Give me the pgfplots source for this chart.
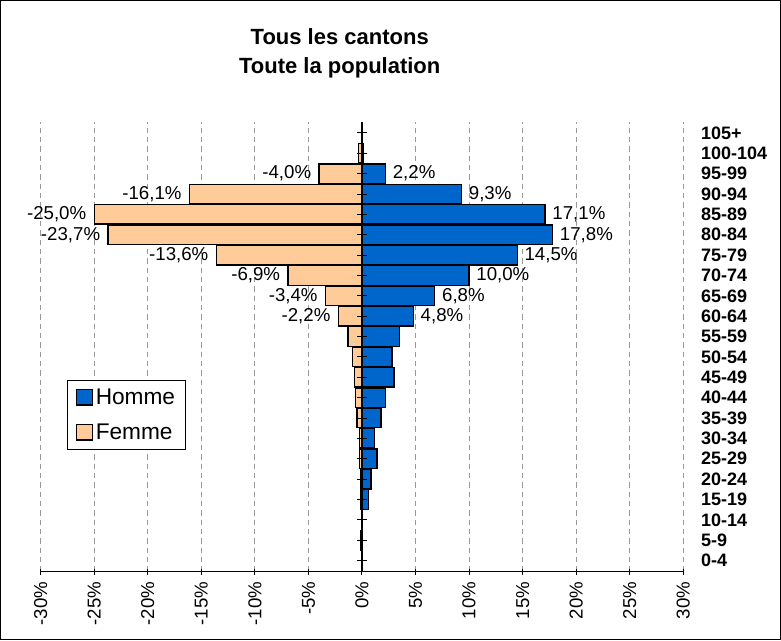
\documentclass[border=0pt]{standalone}
\usepackage{fontspec}
\setmainfont{Liberation Sans}
\usepackage{pgfplots}
\pgfplotsset{compat=1.18}
\definecolor{homme}{HTML}{0066CC}
\definecolor{femme}{HTML}{FFCC99}
\begin{document}
\begin{tikzpicture}
\useasboundingbox (0,0) rectangle (585.75pt,480pt);
\draw[line width=0.75pt] (0.375pt,0.375pt) rectangle (585.375pt,479.625pt);
\node[font=\bfseries\fontsize{16.5}{21.5}\selectfont, align=center] at (254.8pt,440pt) {Tous les cantons\\Toute la population};
\pgfplotsset{pyr/.style={
  scale only axis, width=481.95pt, height=337.5pt,
  at={(30.5pt,51.2pt)}, anchor=south west,
  xmin=-30, xmax=30, ymin=-0.55, ymax=21.55,
}}
\begin{axis}[pyr,
  axis x line*=bottom, axis y line*=right,
  axis line style={-, line width=0.75pt},
  y axis line style={draw=none},
  xbar, bar width=0.96, bar shift=0pt,
  xtick={-30,-25,...,30},
  xticklabels={-30\%,-25\%,-20\%,-15\%,-10\%,-5\%,0\%,5\%,10\%,15\%,20\%,25\%,30\%},
  xticklabel style={rotate=90, anchor=east, inner sep=0pt, font=\fontsize{14}{16}\selectfont},
  xticklabel shift=5pt,
  tick align=center, major tick length=4.5pt,
  x tick style={black, line width=0.75pt},
  ytick={0,...,21},
  yticklabels={0-4,5-9,10-14,15-19,20-24,25-29,30-34,35-39,40-44,45-49,50-54,55-59,60-64,65-69,70-74,75-79,80-84,85-89,90-94,95-99,100-104,105+},
  yticklabel style={font=\bfseries\fontsize{13.5}{16}\selectfont, anchor=west, inner sep=0pt},
  yticklabel shift=11pt,
  y tick style={draw=none},
  xmajorgrids,
  major grid style={dash pattern=on 4pt off 3pt, black!40, line width=0.6pt},
  legend style={at={(rel axis cs:0.0414,0.426)}, anchor=north west, draw=black, line width=0.75pt,
    font=\fontsize{17}{19}\selectfont, inner xsep=6pt, inner ysep=4pt, row sep=9pt, cells={anchor=west}},
  legend image code/.code={\draw[#1,line width=1pt] (0pt,-5.75pt) rectangle (12pt,5.75pt);},
]
\addplot[fill=homme, draw=black, line width=1pt] coordinates {
(0,0) (0.08,1) (0,2) (0.62,3) (0.84,4) (1.4,5) (1.15,6) (1.77,7) (2.17,8) (2.98,9) (2.8,10)
(3.5,11) (4.8,12) (6.8,13) (10.0,14) (14.5,15) (17.8,16) (17.1,17) (9.3,18) (2.2,19) (0.15,20) (0,21)};
\addlegendentry{Homme}
\addplot[fill=femme, draw=black, line width=1pt] coordinates {
(0,0) (-0.08,1) (0,2) (-0.1,3) (-0.15,4) (-0.2,5) (-0.25,6) (-0.47,7) (-0.62,8) (-0.71,9) (-0.87,10)
(-1.3,11) (-2.2,12) (-3.4,13) (-6.9,14) (-13.6,15) (-23.7,16) (-25.0,17) (-16.1,18) (-4.0,19) (-0.3,20) (0,21)};
\addlegendentry{Femme}
\addplot[fill=homme, draw=black, line width=1pt, forget plot,
  point meta=x,
  nodes near coords={\pgfmathprintnumber[fixed,fixed zerofill,precision=1,use comma,assume math mode=true]{\pgfplotspointmeta}\%},
  every node near coord/.append style={anchor=west, inner sep=0pt, xshift=5pt, text=black, font=\fontsize{14}{16}\selectfont}]
coordinates {(4.8,12) (6.8,13) (10.0,14) (14.5,15) (17.8,16) (17.1,17) (9.3,18) (2.2,19)};
\addplot[fill=femme, draw=black, line width=1pt, forget plot,
  point meta=x,
  nodes near coords={\pgfmathprintnumber[fixed,fixed zerofill,precision=1,use comma,assume math mode=true]{\pgfplotspointmeta}\%},
  every node near coord/.append style={anchor=east, inner sep=0pt, xshift=-5.5pt, text=black, font=\fontsize{14}{16}\selectfont}]
coordinates {(-2.2,12) (-3.4,13) (-6.9,14) (-13.6,15) (-23.7,16) (-25.0,17) (-16.1,18) (-4.0,19)};
\end{axis}
\begin{axis}[pyr,
  axis x line=none, axis y line=center,
  axis line style={-, line width=1pt, black},
  xtick=\empty,
  ytick={0,...,21}, yticklabels={},
  tick align=center, major tick length=7pt,
  tick style={black, line width=0.75pt},
]
\addplot[draw=none] coordinates {(0,0)};
\end{axis}
\end{tikzpicture}
\end{document}
